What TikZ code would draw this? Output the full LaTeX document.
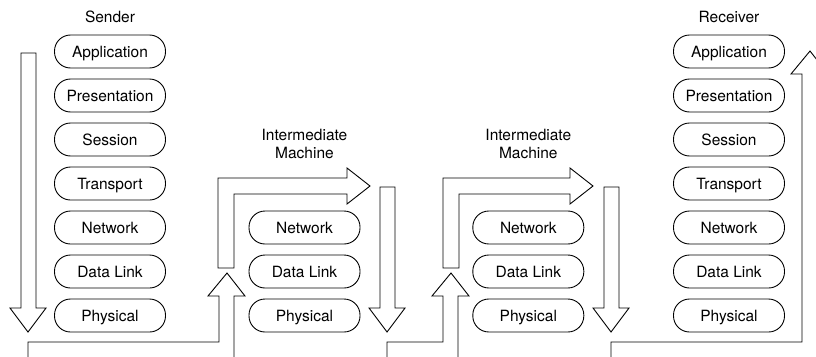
\documentclass[tikz,border=0pt]{standalone}
\usepackage{fontspec}
\setmainfont{TeX Gyre Heros}
\usetikzlibrary{positioning}
\tikzset{
  layer/.style={draw=black, line width=0.9pt, rounded corners=16pt, minimum width=111pt, minimum height=33pt, inner sep=0pt, text height=11pt, text depth=0pt, font=\fontsize{15.5}{18}\selectfont},
  hdr/.style={align=center, font=\fontsize{15.5}{18}\selectfont},
  flow/.style={draw=black, line width=0.9pt, line join=miter},
}

\begin{document}
\begin{tikzpicture}[x=1pt,y=-1pt]
  \useasboundingbox (0,0) rectangle (816,356);
  \clip (0,0) rectangle (816,356);
  % full stacks at both ends
  \foreach \c/\col in {s/110,r/729}
    \foreach \n/\t [count=\k from 0] in {app/Application,pre/Presentation,ses/Session,tra/Transport,net/Network,dll/Data Link,phy/Physical}
      { \node[layer] (\c\n) at (\col,51.5+44*\k) {\t}; }
  % the two routers
  \foreach \c/\col in {ma/304.5,mb/528.3}
    \foreach \n/\t [count=\k from 4] in {net/Network,dll/Data Link,phy/Physical}
      { \node[layer] (\c\n) at (\col,51.5+44*\k) {\t}; }
  \node[hdr] (sender) at (110,17) {Sender};
  \node[hdr] (receiver) at (729,16.5) {Receiver};
  \node[hdr] (maname) at (304.5,143.5) {Intermediate\\Machine};
  \node[hdr] (mbname) at (528.3,143.5) {Intermediate\\Machine};
  % down arrows
  \foreach \x/\t in {28/53,387/187,611/187}
    \draw[flow] (\x-7,\t) -- (\x+8,\t) -- (\x+8,308) -- (\x+18,308) -- (\x,332) -- (\x-18,308) -- (\x-7,308) -- cycle;
  % links along the bottom and up again
  \foreach \a/\b/\h in {28/227/296,387/451/296,611/810/74}
    \draw[flow] (\a,358) -- (\a,342) -- (\b-8,342) -- (\b-8,\h) -- (\b-19,\h) -- (\b,\h-23) -- (\b+18,\h) -- (\b+7,\h) -- (\b+7,358);
  % bent arrows through each router
  \foreach \x/\e in {218/347,443/570}
    \draw[flow] (\x,268) -- (\x,178) -- (\e,178) -- (\e,168) -- (\e+23,186) -- (\e,204) -- (\e,194) -- (\x+16,194) -- (\x+16,268) -- cycle;
\end{tikzpicture}
\end{document}
